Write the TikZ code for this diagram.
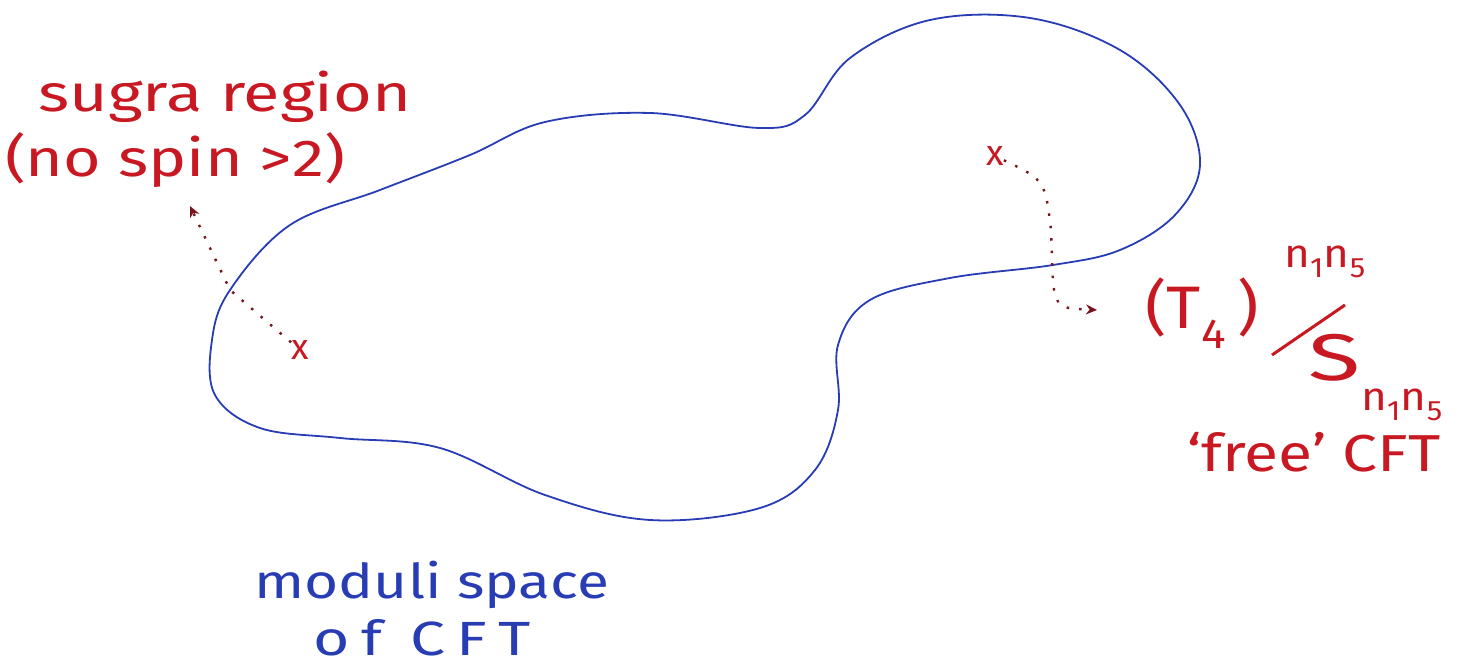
\documentclass[tikz,border=0pt]{standalone}
\usepackage{fontspec}
\setmainfont{Fira Sans}
\usetikzlibrary{arrows.meta}
\definecolor{hred}{RGB}{200,25,35}
\definecolor{hblue}{RGB}{40,60,180}
\definecolor{dotc}{RGB}{120,20,30}
\tikzset{
  redtxt/.style={text=hred, inner sep=0pt, font=\fontsize{52}{56}\selectfont},
  bluetxt/.style={text=hblue, inner sep=0pt, font=\fontsize{48}{52}\selectfont},
  cross/.style={text=hred, inner sep=0pt, font=\fontsize{36}{36}\selectfont},
  dotarrow/.style={line width=2.4pt, dotc, dash pattern=on 2.5pt off 10pt, -{Stealth[length=11pt,width=10pt]}},
  blob/.style={hblue, line width=1.8pt}
}
\newcommand{\wide}[2]{\scalebox{#1}[1]{#2}}
\begin{document}
\begin{tikzpicture}[x=1pt,y=-1pt]
\useasboundingbox (0,0) rectangle (1457,668);
\draw[blob] plot[smooth cycle, tension=0.6] coordinates {
(230,290) (290,225) (380,190) (470,155) (545,122) (650,113) (760,128) (805,115)
(850,58) (930,20) (1030,18) (1120,50) (1180,105) (1200,165) (1175,215) (1120,250)
(1053,265) (950,278) (870,300) (838,345) (838,410) (815,470) (760,508) (650,520)
(545,495) (440,448) (340,438) (260,428) (215,395) (212,340)};
% labels
\node[redtxt] (sugra) at (225,97) {\wide{1.28}{sugra region}};
\node[redtxt] (nospin) at (175,160) {\wide{1.24}{(no spin >2)}};
\node[bluetxt] (moduli) at (432,585) {\wide{1.22}{moduli space}};
\node[bluetxt] (ofcft) at (422,638) {\wide{1.3}{\addfontfeature{LetterSpace=18}of CFT}};
% crosses
\node[cross] (xl) at (300,350) {x};
\node[cross] (xr) at (995,156) {x};
% formula
\node[redtxt, font=\fontsize{60}{64}\selectfont] (t4) at (1202,313) {\wide{1.1}{(T\textsubscript{4}\,)}};
\node[redtxt, font=\fontsize{40}{40}\selectfont] (sup) at (1325,262) {\wide{1.1}{n\textsubscript{1}n\textsubscript{5}}};
\coordinate (sl1) at (1272,355);
\coordinate (sl2) at (1345,305);
\draw[hred, line width=3pt] (sl1) -- (sl2);
\node[redtxt, font=\fontsize{66}{66}\selectfont] (S) at (1335,358) {\wide{1.45}{S}};
\node[redtxt, font=\fontsize{40}{40}\selectfont] (sub) at (1402,405) {\wide{1.1}{n\textsubscript{1}n\textsubscript{5}}};
\node[redtxt] (free) at (1314,452) {\wide{1.2}{‘free’ CFT}};
% arrows
\coordinate (lt) at (190,206);
\coordinate (rt) at (1097,310);
\draw[dotarrow] (xl) -- (230,290) -- (lt);
\draw[dotarrow] (xr) .. controls (1045,180) .. (1051,230) -- (1053,285) .. controls (1058,308) .. (rt);
\end{tikzpicture}
\end{document}
